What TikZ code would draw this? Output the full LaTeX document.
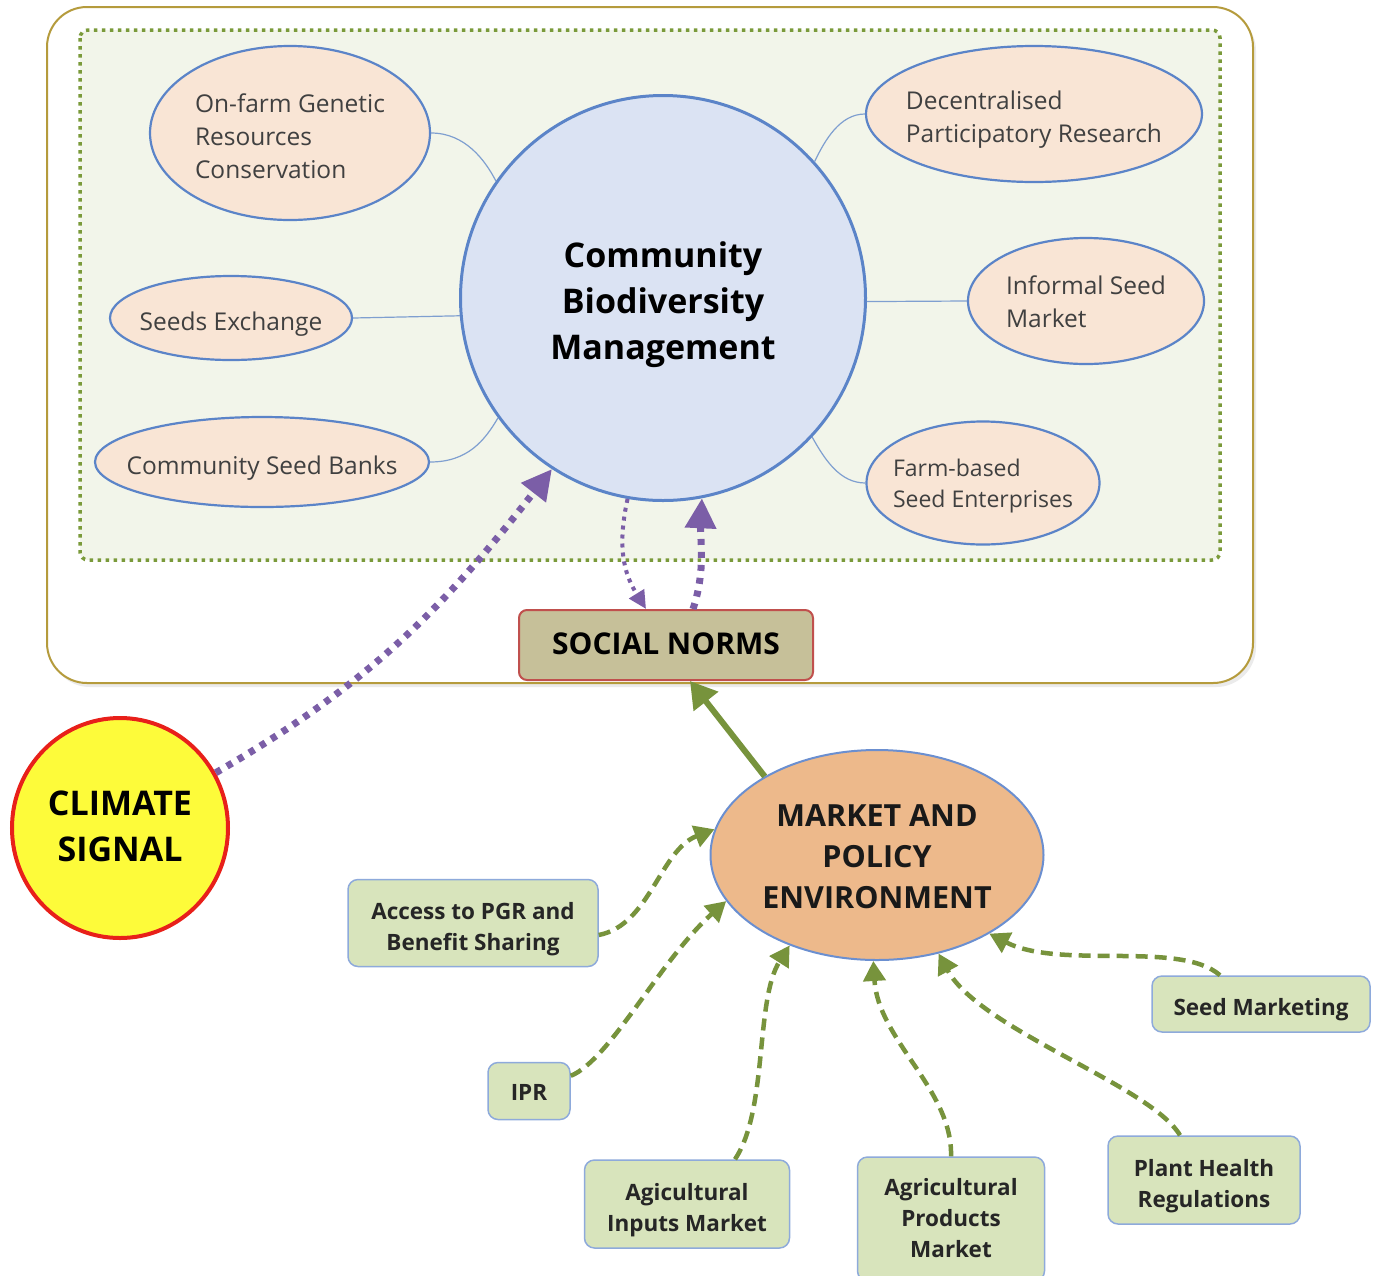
\documentclass[tikz,border=0pt]{standalone}
\usepackage{fontspec}
\setmainfont{Open Sans}
\usetikzlibrary{shapes.geometric,arrows.meta,calc}
\definecolor{peach}{HTML}{F9E5D5}
\definecolor{ellblue}{HTML}{5B84C8}
\definecolor{cbmfill}{HTML}{DBE3F3}
\definecolor{innerfill}{HTML}{F2F5EA}
\definecolor{dotgreen}{HTML}{7A9A3A}
\definecolor{framegold}{HTML}{B59B3C}
\definecolor{textgray}{HTML}{404040}
\definecolor{linkblue}{HTML}{7F9FD0}
\definecolor{snfill}{HTML}{C6C099}
\definecolor{snborder}{HTML}{C0504D}
\definecolor{purp}{HTML}{7B5EA7}
\definecolor{agreen}{HTML}{77933C}
\definecolor{boxgreen}{HTML}{D8E4BC}
\definecolor{boxblue}{HTML}{8EAADB}
\definecolor{mktfill}{HTML}{EDB98B}
\definecolor{mktborder}{HTML}{6B8FD0}
\definecolor{climfill}{HTML}{FDFB3A}
\definecolor{climborder}{HTML}{E8201A}
% lowered multi-line text block: #1 shift, #2 column type, #3 lines
\newcommand{\lowtxt}[3]{\raisebox{-#1}[\height][\depth]{\begin{tabular}{@{}#2@{}}#3\end{tabular}}}
\begin{document}
\begin{tikzpicture}[x=1pt,y=-1pt,
  leaf/.style={ellipse, draw=ellblue, line width=2.2pt, fill=peach, inner xsep=-20pt,
    inner ysep=0pt, text=textgray, font=\fontsize{24.5}{33}\selectfont},
  gbox/.style={rectangle, rounded corners=10pt, draw=boxblue, line width=1.5pt,
    fill=boxgreen, text=black!85, font=\bfseries\fontsize{22.5}{31}\selectfont,
    inner sep=0pt},
  link/.style={draw=linkblue, line width=1.2pt},
  gdash/.style={draw=agreen, line width=4.5pt, dash pattern=on 12pt off 7pt,
    -{Triangle[length=20pt,width=22pt]}},
  gsolid/.style={draw=agreen, line width=6pt, -{Triangle[length=26pt,width=30pt]}},
  pthick/.style={draw=purp, line width=7pt, dash pattern=on 6pt off 7pt,
    -{Triangle[length=30pt,width=30pt]}},
  pthin/.style={draw=purp, line width=4pt, dash pattern=on 4pt off 5pt,
    -{Triangle[length=18pt,width=17pt]}}
]
\useasboundingbox (0,0) rectangle (1375,1275);
\fill[white] (0,0) rectangle (1375,1275);

% outer frame with shadow
\fill[black!8, rounded corners=40pt] (50,11) rectangle (1256,687);
\draw[framegold, line width=2pt, fill=white, rounded corners=40pt] (47,7) rectangle (1253,683);
% inner dotted area
\draw[dotgreen, line width=3.5pt, dash pattern=on 3.5pt off 4.5pt, fill=innerfill,
  rounded corners=8pt] (80,30) rectangle (1220,560);

% central circle
\node[circle, draw=ellblue, line width=3pt, fill=cbmfill, minimum size=405pt,
  inner sep=0pt, font=\bfseries\fontsize{34}{46}\selectfont]
  (cbm) at (663,298) {\lowtxt{6pt}{c}{Community\\Biodiversity\\Management}};

% leaves
\node[leaf, minimum width=280pt, minimum height=174pt] (onfarm) at (290,133)
  {\lowtxt{6pt}{l}{On-farm Genetic\\Resources\\Conservation}};
\node[leaf, minimum width=242pt, minimum height=84pt] (seeds) at (231,318)
  {\lowtxt{6pt}{l}{Seeds Exchange}};
\node[leaf, minimum width=334pt, minimum height=90pt] (csb) at (262,462)
  {\lowtxt{6pt}{l}{Community Seed Banks}};
\node[leaf, minimum width=336pt, minimum height=136pt] (dec) at (1034,114)
  {\lowtxt{5pt}{l}{Decentralised\\Participatory Research}};
\node[leaf, minimum width=236pt, minimum height=126pt] (inf) at (1086,301)
  {\lowtxt{3pt}{l}{Informal Seed\\Market}};
\node[leaf, minimum width=233pt, minimum height=123pt,
  font=\fontsize{23}{31}\selectfont] (farm) at (983,483)
  {\lowtxt{3pt}{l}{Farm-based\\Seed Enterprises}};

% links
\draw[link] (onfarm.east) .. controls (465,133) and (485,160) .. (cbm.145);
\draw[link] (seeds.east) -- (cbm.185);
\draw[link] (csb.east) .. controls (468,462) and (485,440) .. (cbm.216);
\draw[link] (dec.west) .. controls (840,114) and (825,140) .. (cbm.42);
\draw[link] (inf.west) -- (cbm.-1);
\draw[link] (farm.west) .. controls (840,483) and (825,460) .. (cbm.-43);

% social norms
\node[rectangle, rounded corners=8pt, draw=snborder, line width=2pt, fill=snfill,
  minimum width=294pt, minimum height=70pt, inner sep=0pt,
  font=\bfseries\fontsize{30}{34}\selectfont] (sn) at (666,645)
  {\lowtxt{3pt}{c}{SOCIAL NORMS}};

% climate signal
\node[ellipse, draw=climborder, line width=4pt, fill=climfill, minimum width=216pt,
  minimum height=220pt, inner sep=0pt,
  font=\bfseries\fontsize{34}{46}\selectfont] (climate) at (120,828)
  {\lowtxt{1pt}{c}{CLIMATE\\SIGNAL}};

% market and policy
\node[ellipse, draw=mktborder, line width=2pt, fill=mktfill, minimum width=333pt,
  minimum height=210pt, inner sep=0pt, text=black!90,
  font=\bfseries\fontsize{30.5}{41}\selectfont] (mkt) at (877,855)
  {\lowtxt{4pt}{c}{MARKET AND\\POLICY\\ENVIRONMENT}};

% green boxes
\node[gbox, minimum width=250pt, minimum height=87pt] (access) at (473,923)
  {\lowtxt{6pt}{c}{Access to PGR and\\Benefit Sharing}};
\node[gbox, minimum width=82pt, minimum height=57pt] (ipr) at (529,1091)
  {\lowtxt{3pt}{c}{IPR}};
\node[gbox, minimum width=205pt, minimum height=88pt] (inputs) at (687,1204)
  {\lowtxt{6pt}{c}{Agicultural\\Inputs Market}};
\node[gbox, minimum width=187pt, minimum height=124pt] (products) at (951,1219)
  {\lowtxt{1pt}{c}{Agricultural\\Products\\Market}};
\node[gbox, minimum width=192pt, minimum height=88pt] (plant) at (1204,1180)
  {\lowtxt{6pt}{c}{Plant Health\\Regulations}};
\node[gbox, minimum width=218pt, minimum height=56pt] (seedm) at (1261,1004)
  {\lowtxt{5pt}{c}{Seed Marketing}};

% purple arrows
\draw[pthin] (cbm.260) .. controls (615,555) and (628,580) .. ($(sn.north)+(-20,0)$);
\draw[pthick] ($(sn.north)+(27,0)$) .. controls (706,570) and (700,540) .. (cbm.281);
\draw[pthick] (climate.30) to[out=30,in=232] (cbm.237);

% green arrows
\draw[gsolid] (mkt.145) -- ($(sn.south)+(24,0)$);
\draw[gdash] ($(access.east)+(0,12)$) .. controls (650,925) and (660,850) .. (mkt.171);
\draw[gdash] (ipr.20) .. controls (610,1060) and (660,960) .. (mkt.197);
\draw[gdash] ($(inputs.north)+(48,0)$) .. controls (768,1110) and (755,1000) .. (mkt.226);
\draw[gdash] (products.north) .. controls (953,1090) and (878,1040) .. (mkt.268);
\draw[gdash] ($(plant.north)+(-24,0)$) .. controls (1150,1085) and (980,1030) .. (mkt.-58);
\draw[gdash] ($(seedm.north)+(-41,0)$) .. controls (1180,940) and (1060,970) .. (mkt.-35);
\end{tikzpicture}
\end{document}
